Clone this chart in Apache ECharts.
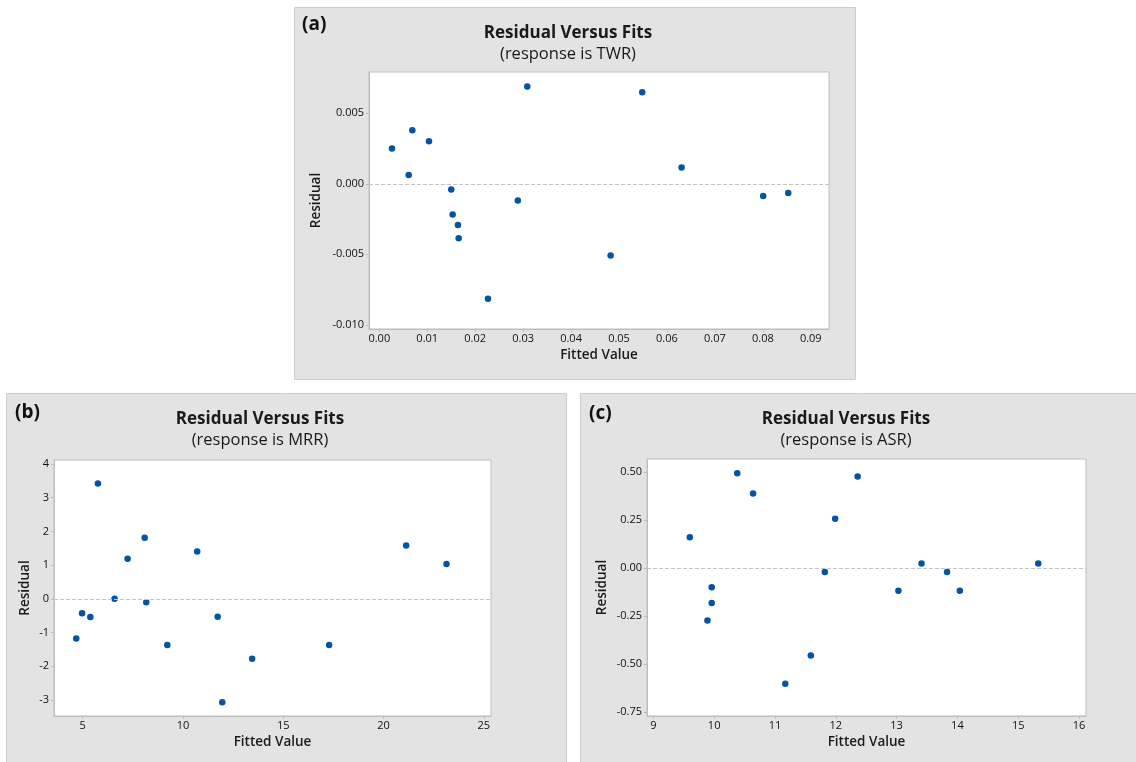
<!DOCTYPE html>
<html>
<head>
<meta charset="utf-8">
<title>Residual Versus Fits</title>
<script src="https://cdn.jsdelivr.net/npm/echarts@6/dist/echarts.min.js"></script>
<style>
  html, body { margin: 0; padding: 0; background: #fff; }
  #main { width: 1136px; height: 762px; }
</style>
</head>
<body>
<div id="main"></div>
<script>
var myChart = echarts.init(document.getElementById('main'));

// (a) response is TWR
var twrFit = [0.00265, 0.00613, 0.00689, 0.01036, 0.0150, 0.0153, 0.0164, 0.01655, 0.02267, 0.0289, 0.03086, 0.04825, 0.05484, 0.06305, 0.08007, 0.0853];
var twrRes = [0.00251, 0.00062, 0.00379, 0.00301, -0.0004, -0.00217, -0.00293, -0.00387, -0.00816, -0.00118, 0.00691, -0.00508, 0.0065, 0.00116, -0.00087, -0.00066];
var twrXTicks = [0, 0.01, 0.02, 0.03, 0.04, 0.05, 0.06, 0.07, 0.08, 0.09];
var twrYTicks = [-0.010, -0.005, 0, 0.005];

// (b) response is MRR
var mrrFit = [4.68, 4.97, 5.38, 5.76, 6.59, 7.24, 8.09, 8.17, 9.22, 10.71, 11.73, 11.96, 13.45, 17.29, 21.13, 23.14];
var mrrRes = [-1.18, -0.43, -0.54, 3.42, 0.0, 1.19, 1.81, -0.10, -1.37, 1.40, -0.53, -3.07, -1.78, -1.37, 1.58, 1.03];
var mrrXTicks = [5, 10, 15, 20, 25];
var mrrYTicks = [-3, -2, -1, 0, 1, 2, 3, 4];

// (c) response is ASR
var asrFit = [9.60, 9.89, 9.96, 9.96, 10.38, 10.64, 11.17, 11.59, 11.82, 11.99, 12.36, 13.03, 13.41, 13.83, 14.04, 15.33];
var asrRes = [0.16, -0.274, -0.10, -0.182, 0.494, 0.388, -0.603, -0.456, -0.021, 0.257, 0.477, -0.118, 0.024, -0.021, -0.118, 0.024];
var asrXTicks = [9, 10, 11, 12, 13, 14, 15, 16];
var asrYTicks = [-0.75, -0.50, -0.25, 0, 0.25, 0.50];

var FONT = '"Open Sans", "Noto Sans", sans-serif';
var AXIS_GRAY = '#bdbdbd';
var DOT_BLUE = '#0553a3';

function pairs(xs, ys) {
    return xs.map(function (x, i) { return [x, ys[i]]; });
}

function makeX(idx, min, max, ticks, digits) {
    return {
        gridIndex: idx,
        type: 'value',
        min: min,
        max: max,
        name: 'Fitted Value',
        nameLocation: 'middle',
        nameGap: 19,
        nameTextStyle: { fontFamily: FONT, fontSize: 13.5, fontWeight: 600, color: '#1a1a1a' },
        axisLine: { show: true, onZero: false, lineStyle: { color: AXIS_GRAY } },
        axisTick: { show: true, length: 3, customValues: ticks, lineStyle: { color: AXIS_GRAY } },
        axisLabel: {
            customValues: ticks,
            margin: 4,
            fontFamily: FONT, fontSize: 11, color: '#111',
            formatter: function (v) { return digits == null ? String(v) : v.toFixed(digits); }
        },
        splitLine: { show: false }
    };
}

function makeY(idx, min, max, ticks, digits, gap) {
    return {
        gridIndex: idx,
        type: 'value',
        min: min,
        max: max,
        name: 'Residual',
        nameLocation: 'middle',
        nameGap: gap,
        nameTextStyle: { fontFamily: FONT, fontSize: 13.5, fontWeight: 600, color: '#1a1a1a' },
        axisLine: { show: true, onZero: false, lineStyle: { color: AXIS_GRAY } },
        axisTick: { show: true, length: 3, customValues: ticks, lineStyle: { color: AXIS_GRAY } },
        axisLabel: {
            customValues: ticks,
            margin: 5,
            fontFamily: FONT, fontSize: 11, color: '#111',
            formatter: function (v) { return digits == null ? String(v) : v.toFixed(digits); }
        },
        splitLine: { show: false }
    };
}

function makeSeries(idx, data) {
    return {
        type: 'scatter',
        xAxisIndex: idx,
        yAxisIndex: idx,
        data: data,
        symbolSize: 6.5,
        itemStyle: { color: DOT_BLUE, opacity: 1 },
        markLine: {
            silent: true,
            symbol: 'none',
            label: { show: false },
            lineStyle: { color: '#c4c4c4', type: 'dashed', width: 1 },
            data: [{ yAxis: 0 }]
        }
    };
}

function panelText(x, y, title, sub) {
    return [
        { type: 'text', x: x, y: y, style: { text: title, align: 'center', verticalAlign: 'middle', font: 'bold 17px ' + FONT, fill: '#1a1a1a' } },
        { type: 'text', x: x, y: y + 21, style: { text: sub, align: 'center', verticalAlign: 'middle', font: '16.5px ' + FONT, fill: '#1a1a1a' } }
    ];
}

function panelBox(x, y, w, h) {
    return { type: 'rect', z: -100, shape: { x: x, y: y, width: w, height: h }, style: { fill: '#e3e3e3', stroke: '#cdcdcd', lineWidth: 1 } };
}

function letter(x, y, t) {
    return { type: 'text', x: x, y: y, style: { text: t, align: 'left', verticalAlign: 'middle', font: 'bold 19px ' + FONT, fill: '#111' } };
}

var graphics = [
    panelBox(294.5, 7.5, 561, 372),
    panelBox(6.5, 393.5, 560, 380),
    panelBox(580.5, 393.5, 570, 380),
    letter(302, 25, '(a)'),
    letter(15, 413, '(b)'),
    letter(589, 414, '(c)')
].concat(
    panelText(568, 33, 'Residual Versus Fits', '(response is TWR)'),
    panelText(260, 419, 'Residual Versus Fits', '(response is MRR)'),
    panelText(846, 419, 'Residual Versus Fits', '(response is ASR)')
);

var gridStyle = { show: true, backgroundColor: '#ffffff', borderColor: AXIS_GRAY, borderWidth: 1 };

var option = {
    backgroundColor: '#ffffff',
    animation: false,
    graphic: graphics,
    grid: [
        echarts.util.extend({ left: 369, top: 72, width: 460, height: 257 }, gridStyle),
        echarts.util.extend({ left: 54, top: 460, width: 437, height: 256 }, gridStyle),
        echarts.util.extend({ left: 647, top: 459, width: 439, height: 257 }, gridStyle)
    ],
    xAxis: [
        makeX(0, -0.00215, 0.0938, twrXTicks, 2),
        makeX(1, 3.57, 25.36, mrrXTicks, null),
        makeX(2, 8.896, 16.115, asrXTicks, null)
    ],
    yAxis: [
        makeY(0, -0.0103, 0.00793, twrYTicks, 3, 46),
        makeY(1, -3.48, 4.12, mrrYTicks, null, 22),
        makeY(2, -0.771, 0.568, asrYTicks, 2, 38)
    ],
    series: [
        makeSeries(0, pairs(twrFit, twrRes)),
        makeSeries(1, pairs(mrrFit, mrrRes)),
        makeSeries(2, pairs(asrFit, asrRes))
    ]
};

myChart.setOption(option);
</script>
</body>
</html>
